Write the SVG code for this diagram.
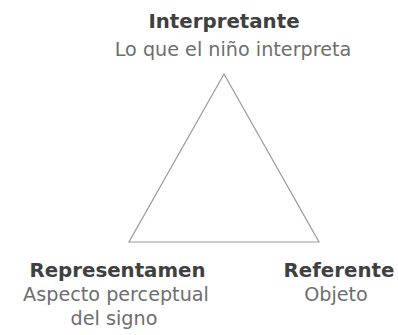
<svg xmlns="http://www.w3.org/2000/svg" width="398" height="335" viewBox="0 0 398 335">
<style>
.t{font-family:"DejaVu Sans",Verdana,sans-serif;font-weight:bold;font-size:19.8px;fill:#404040;text-anchor:middle}
.s{font-family:"DejaVu Sans",Verdana,sans-serif;font-size:19.2px;fill:#6e6e6e;text-anchor:middle}
.e{fill:none;stroke:#9a9a9a;stroke-width:1.2}
</style>
<rect width="398" height="335" fill="#fff"/>
<g id="connectors">
<path class="e" d="M224,74 L129,242 L319,242 Z"/>
</g>
<g id="interpretante">
<text class="t" x="224" y="28">Interpretante</text>
<text class="s" x="233" y="56">Lo que el niño interpreta</text>
</g>
<g id="representamen">
<text class="t" x="117.5" y="277">Representamen</text>
<text class="s" x="116" y="301">Aspecto perceptual</text>
<text class="s" x="114" y="325">del signo</text>
</g>
<g id="referente">
<text class="t" x="339" y="277">Referente</text>
<text class="s" x="336" y="301">Objeto</text>
</g>
</svg>
